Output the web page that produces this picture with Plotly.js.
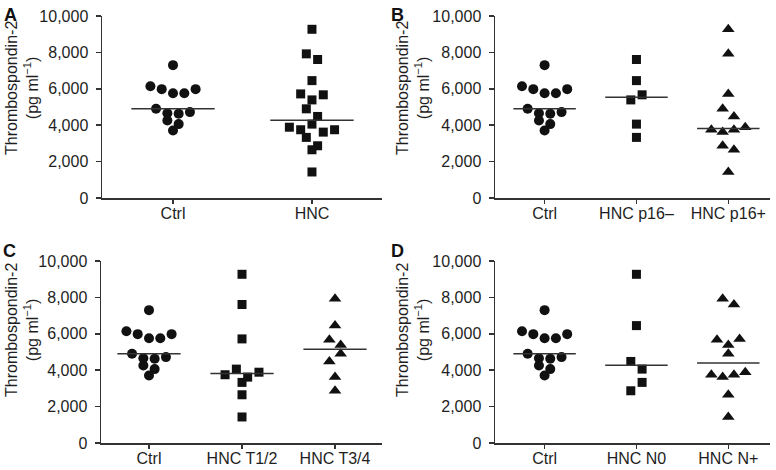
<!DOCTYPE html>
<html>
<head>
<meta charset="utf-8">
<script src="https://cdn.plot.ly/plotly-3.0.1.min.js"></script>
<style>html,body{margin:0;padding:0;background:#fff}#chart{width:776px;height:470px}</style>
</head>
<body>
<div id="chart"></div>
<script>
// ---- data (pg/ml), listed row by row, left to right as drawn ----
const ctrl   = [7300, 6140, 5980, 5760, 5760, 5980, 4900, 4660, 4630, 4720, 4260, 4060, 3710];
const hnc    = [9270, 7920, 7610, 6450, 5720, 5390, 5670, 4900, 4480, 3890, 3750, 4060, 3620, 3750, 3330, 2870, 2650, 1430];
const p16neg = [7610, 6450, 5390, 5670, 4060, 3330];
const p16pos = [9270, 7920, 5720, 4900, 4480, 3750, 3620, 3750, 3890, 2870, 2650, 1430];
const t12    = [9270, 7610, 5720, 3750, 4060, 3620, 3890, 3330, 2650, 1430];
const t34    = [7920, 6450, 5670, 5390, 4480, 4900, 3620, 2870];
const n0     = [9270, 6450, 4480, 4060, 2870, 3330];
const nplus  = [7920, 7610, 5670, 5390, 5720, 4900, 3750, 3620, 3750, 3890, 2650, 1430];

const labelsA = ['Ctrl', 'HNC'];
const labelsB = ['Ctrl', 'HNC p16–', 'HNC p16+'];
const labelsC = ['Ctrl', 'HNC T1/2', 'HNC T3/4'];
const labelsD = ['Ctrl', 'HNC N0', 'HNC N+'];
const yTicks = [0, 2000, 4000, 6000, 8000, 10000];

// ---- layout geometry (pixels) ----
const W = 776, H = 470;
const FONT = 'Liberation Sans, Arial, Helvetica, sans-serif';
const INK = '#1e1e1e';
const panels = [
  {letter: 'A', groups: [ctrl, hnc], labels: labelsA, x0: 102, x1: 382, yTop: 16, yBot: 198, range: [-0.511, 1.504], lx: 2, ly: 3, tx: 22, ty: 88},
  {letter: 'B', groups: [ctrl, p16neg, p16pos], labels: labelsB, x0: 495, x1: 770, yTop: 16, yBot: 198, range: [-0.54, 2.454], lx: 389, ly: 3, tx: 413, ty: 88},
  {letter: 'C', groups: [ctrl, t12, t34], labels: labelsC, x0: 101, x1: 382, yTop: 261, yBot: 443, range: [-0.516, 2.505], lx: 1, ly: 239, tx: 22, ty: 330},
  {letter: 'D', groups: [ctrl, n0, nplus], labels: labelsD, x0: 495, x1: 770, yTop: 261, yBot: 443, range: [-0.54, 2.454], lx: 389, ly: 239, tx: 413, ty: 330}
];
const symbols = ['circle', 'square', 'triangle-up'];
const sizes = [10, 9, 11];

function median(a) {
  const s = a.slice().sort((p, q) => p - q);
  const m = Math.floor(s.length / 2);
  return s.length % 2 ? s[m] : (s[m - 1] + s[m]) / 2;
}

// simple row-based swarm: points within `thresh` of a row's top value share a row,
// spread symmetrically in the order they appear in the data array
function swarm(values, center, step, thresh) {
  const order = values.map((v, i) => i).sort((a, b) => values[b] - values[a]);
  const rows = [];
  let cur = null;
  order.forEach(i => {
    if (!cur || cur.top - values[i] > thresh) { cur = {top: values[i], idx: []}; rows.push(cur); }
    cur.idx.push(i);
  });
  const xs = new Array(values.length);
  rows.forEach(r => {
    r.idx.sort((a, b) => a - b);
    const n = r.idx.length;
    r.idx.forEach((i, k) => { xs[i] = center + (k - (n - 1) / 2) * step; });
  });
  return xs;
}

const traces = [];
const layout = {
  width: W, height: H,
  margin: {l: 0, r: 0, t: 0, b: 0},
  paper_bgcolor: '#fff', plot_bgcolor: '#fff',
  showlegend: false,
  font: {family: FONT, size: 16, color: INK},
  annotations: []
};

panels.forEach((p, pi) => {
  const n = pi + 1;
  const xa = 'xaxis' + (n === 1 ? '' : n), ya = 'yaxis' + (n === 1 ? '' : n);
  const xr = 'x' + (n === 1 ? '' : n), yr = 'y' + (n === 1 ? '' : n);
  const pxPerUnit = (p.x1 - p.x0) / (p.range[1] - p.range[0]);
  const step = 11.3 / pxPerUnit;
  layout[xa] = {
    domain: [p.x0 / W, p.x1 / W], anchor: yr, range: p.range,
    tickvals: p.labels.map((l, i) => i), ticktext: p.labels,
    showline: true, linecolor: '#333', linewidth: 1.5,
    ticks: 'outside', ticklen: 4, tickwidth: 1.5, tickcolor: '#333',
    ticklabelstandoff: -4,
    showgrid: false, zeroline: false, fixedrange: true,
    tickfont: {family: FONT, size: 16, color: INK}
  };
  layout[ya] = {
    domain: [1 - p.yBot / H, 1 - p.yTop / H], anchor: xr, range: [0, 10000],
    tickvals: yTicks, tickformat: ',d',
    showline: true, linecolor: '#333', linewidth: 1.5,
    ticks: 'outside', ticklen: 5, tickwidth: 1.5, tickcolor: '#333',
    ticklabelstandoff: 4,
    showgrid: false, zeroline: false, fixedrange: true,
    tickfont: {family: FONT, size: 16, color: INK}
  };
  p.groups.forEach((g, gi) => {
    const k = p.groups.length === 2 && gi === 1 ? 1 : gi;
    traces.push({
      type: 'scatter', mode: 'markers', xaxis: xr, yaxis: yr,
      x: swarm(g, gi, step, 500), y: g,
      marker: {symbol: symbols[k], size: sizes[k], color: '#111', line: {width: 0}},
      hoverinfo: 'y'
    });
    const med = median(g);
    const half = p.groups.length === 2 ? 0.3 : 0.34;
    traces.push({
      type: 'scatter', mode: 'lines', xaxis: xr, yaxis: yr,
      x: [gi - half, gi + half], y: [med, med],
      line: {color: '#333', width: 1.5}, hoverinfo: 'skip'
    });
  });
  layout.annotations.push({
    xref: 'paper', yref: 'paper', x: p.lx / W, y: 1 - p.ly / H,
    xanchor: 'left', yanchor: 'top', showarrow: false,
    text: '<b>' + p.letter + '</b>', font: {family: FONT, size: 18, color: '#111'}
  });
  layout.annotations.push({
    xref: 'paper', yref: 'paper', x: p.tx / W, y: 1 - p.ty / H,
    xanchor: 'center', yanchor: 'middle', showarrow: false, textangle: -90,
    text: 'Thrombospondin-2<br>(pg ml<sup>−1</sup>)',
    font: {family: FONT, size: 16, color: INK}
  });
});

Plotly.newPlot('chart', traces, layout, {displayModeBar: false, staticPlot: true});
</script>
</body>
</html>
